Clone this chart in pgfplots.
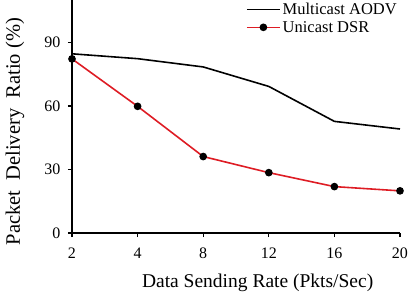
\documentclass[border=0pt]{standalone}
\usepackage{pgfplots}
\pgfplotsset{compat=1.18}
\usepackage{fontspec}
\setmainfont{Liberation Serif}
\definecolor{dsrred}{RGB}{222,28,36}
\begin{document}
\begin{tikzpicture}
\useasboundingbox (-72bp,-62bp) rectangle (340bp,233bp);
\begin{axis}[
  scale only axis, width=328bp, height=233bp,
  at={(0,0)}, anchor=south west,
  xmin=0, xmax=5, ymin=0, ymax=110,
  axis x line*=bottom, axis y line*=left,
  axis line style={line width=1.3pt},
  xtick={0,1,2,3,4,5}, xticklabels={2,4,8,12,16,20},
  ytick={0,30,60,90},
  tick align=outside, major tick length=4bp,
  tick style={line width=1.2pt, black},
  /pgf/number format/assume math mode=true,
  ticklabel style={font=\fontsize{16bp}{18bp}\selectfont},
  xticklabel style={yshift=-7bp},
  yticklabel style={xshift=-4bp},
  xlabel={Data Sending Rate (Pkts/Sec)},
  ylabel={Packet\ \ Delivery\ \ Ratio (\%)},
  label style={font=\fontsize{19.5bp}{22bp}\selectfont},
  xlabel style={at={(axis description cs:0.566,-0.236)}, anchor=base},
  ylabel style={at={(axis description cs:-0.174,0.435)}, anchor=center, rotate=0,
    font=\fontsize{20.5bp}{22bp}\selectfont},
  legend style={draw=none, fill=none, at={(1,1)}, anchor=north east,
    font=\fontsize{16.5bp}{19bp}\selectfont, row sep=1bp, inner sep=1bp},
  legend cell align=left,
  legend image code/.code={
    \draw[#1] (0bp,0bp) -- (33bp,0bp);
    \path[#1] plot coordinates {(16.5bp,0bp)};
  },
  clip=false,
]
\addplot[black, line width=1.6pt, mark=none] coordinates {
  (0,84.6) (1,82.3) (2,78.4) (3,69.2) (4,52.7) (5,49.1)
};
\addlegendentry{Multicast AODV}
\addplot[dsrred, line width=1.6pt, mark=*, mark size=3bp,
  mark options={fill=black, draw=black}] coordinates {
  (0,82.2) (1,59.8) (2,36.1) (3,28.5) (4,21.9) (5,19.9)
};
\addlegendentry{Unicast DSR}
\end{axis}
\end{tikzpicture}
\end{document}
